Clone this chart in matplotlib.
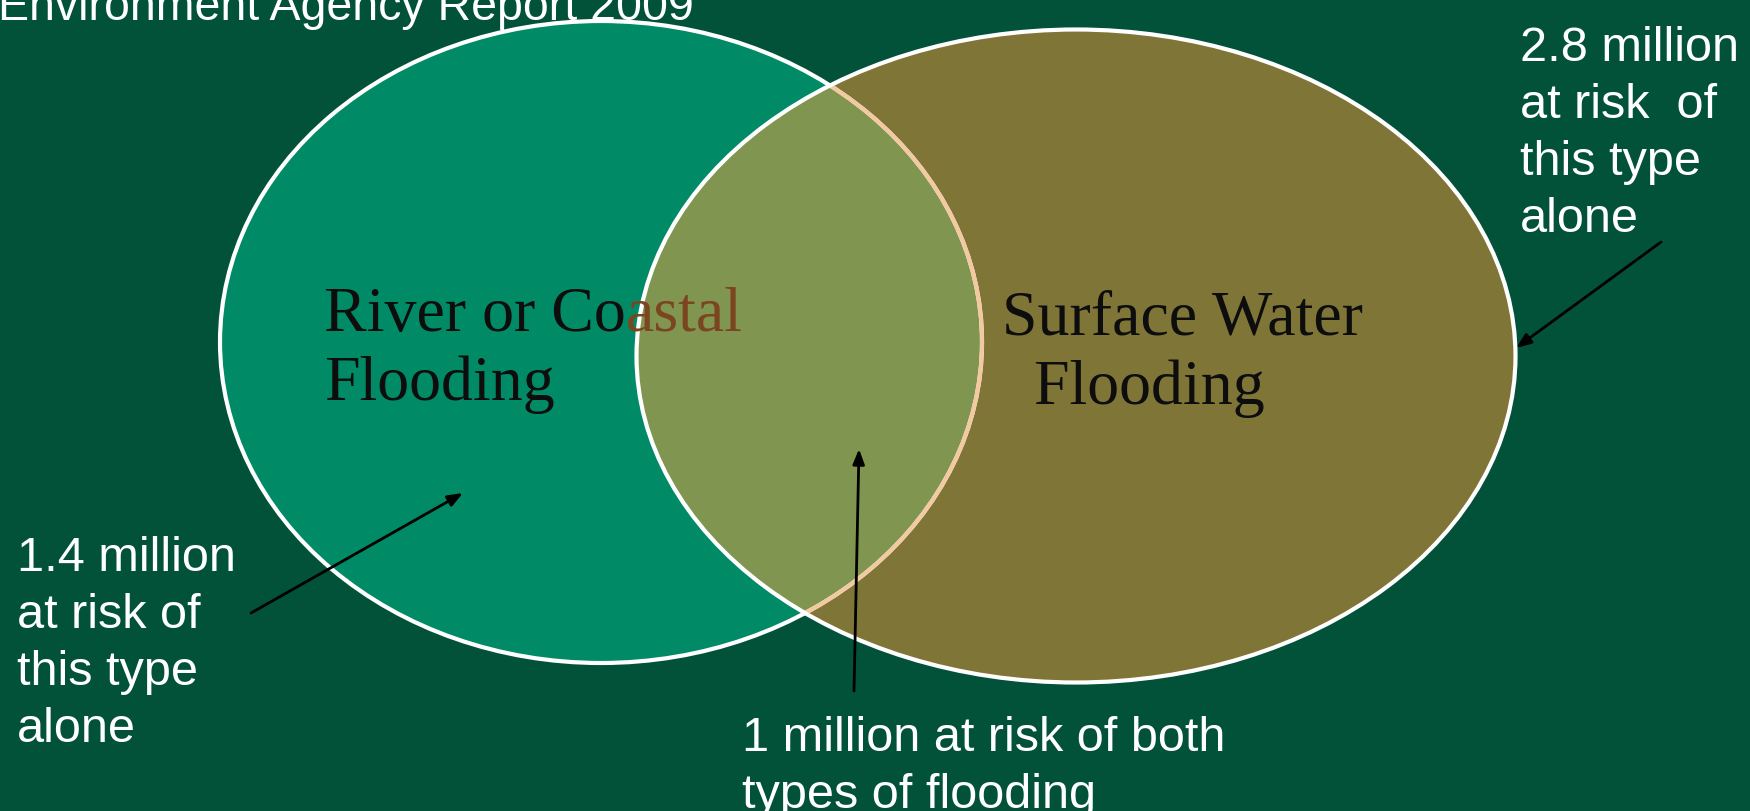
#!/usr/bin/env python3
"""Venn diagram: people at risk of flooding (Environment Agency Report 2009)."""

import matplotlib
matplotlib.use("Agg")
import matplotlib.pyplot as plt
from matplotlib.patches import Ellipse

# Data
set_names = ["River or Coastal", "Surface Water"]
set_second_lines = ["Flooding", "  Flooding"]
only_left = 1.4   # million
only_right = 2.8  # million
both = 1.0        # million
title = "Environment Agency Report 2009"

# Colours
BG = "#02523a"
LEFT_FILL = "#008b66"
RIGHT_FILL = "#7f7537"
OVERLAP_FILL = "#809550"
EDGE = "white"
EDGE_OVERLAP = "#f2c9a0"
SET_TEXT = "#0d0d0d"
SET_TEXT_OVERLAP = "#7a4520"

# Layout (pixel coords, y downwards)
W, H = 1750, 812
left_geo = dict(xy=(601, 343), width=762, height=642)
right_geo = dict(xy=(1076, 357), width=879, height=653)

fig = plt.figure(figsize=(W / 100, H / 100), dpi=100, facecolor=BG)
ax = fig.add_axes([0, 0, 1, 1])
ax.set_xlim(0, W)
ax.set_ylim(H, 0)
ax.set_facecolor(BG)
ax.axis("off")


def clip_to(artist, geo):
    artist.set_clip_path(Ellipse(**geo, transform=ax.transData))


# circles
ax.add_patch(Ellipse(**left_geo, facecolor=LEFT_FILL, edgecolor="none", zorder=1))
ax.add_patch(Ellipse(**right_geo, facecolor=RIGHT_FILL, edgecolor="none", zorder=1))
overlap = ax.add_patch(Ellipse(**right_geo, facecolor=OVERLAP_FILL, edgecolor="none", zorder=2))
clip_to(overlap, left_geo)

# outlines: left outline tinted where the right circle covers it
ax.add_patch(Ellipse(**left_geo, facecolor="none", edgecolor=EDGE, lw=3, zorder=3))
tinted = ax.add_patch(Ellipse(**left_geo, facecolor="none", edgecolor=EDGE_OVERLAP, lw=3, zorder=4))
clip_to(tinted, right_geo)
ax.add_patch(Ellipse(**right_geo, facecolor="none", edgecolor=EDGE, lw=3, zorder=5))

# set names (serif); the part running into the overlap is tinted brown
serif = dict(family="Liberation Serif", fontsize=46, ha="left", zorder=6)
split = set_names[0].index("Co") + 2
head = ax.text(324, 331, set_names[0][:split], color=SET_TEXT, va="baseline", **serif)
ax.annotate(set_names[0][split:], xy=(1, 0), xycoords=head, va="bottom",
            color=SET_TEXT_OVERLAP, **serif)
ax.text(324, 400, set_second_lines[0], color=SET_TEXT, va="baseline", **serif)
ax.text(1002, 335, set_names[1], color=SET_TEXT, va="baseline", **serif)
ax.text(1002, 404, set_second_lines[1], color=SET_TEXT, va="baseline", **serif)

# white annotations
sans = dict(family="Liberation Sans", fontsize=35, color="white", ha="left",
            va="baseline")
ax.text(-2, 20, title, **{**sans, "fontsize": 33.5})

left_lines = [f"{only_left:.1f} million", "at risk of", "this type", "alone"]
for i, line in enumerate(left_lines):
    ax.text(17, 571 + 57 * i, line, **sans)

right_lines = [f"{only_right:.1f} million", "at risk  of", "this type", "alone"]
for i, line in enumerate(right_lines):
    ax.text(1520, 61 + 57 * i, line, **sans)

both_lines = [f"{both:g} million at risk of both", "types of flooding"]
for i, line in enumerate(both_lines):
    ax.text(742, 751 + 57 * i, line, **sans)

# arrows
arrow = dict(arrowstyle="-|>,head_length=0.9,head_width=0.35", color="black",
             lw=2, shrinkA=0, shrinkB=0)
ax.annotate("", xy=(463, 494), xytext=(251, 614), arrowprops=arrow, zorder=8)
ax.annotate("", xy=(859, 450), xytext=(854, 692), arrowprops=arrow, zorder=8)
ax.annotate("", xy=(1516, 349), xytext=(1661, 243), arrowprops=arrow, zorder=8)

fig.savefig("out.png", dpi=100, facecolor=BG)
